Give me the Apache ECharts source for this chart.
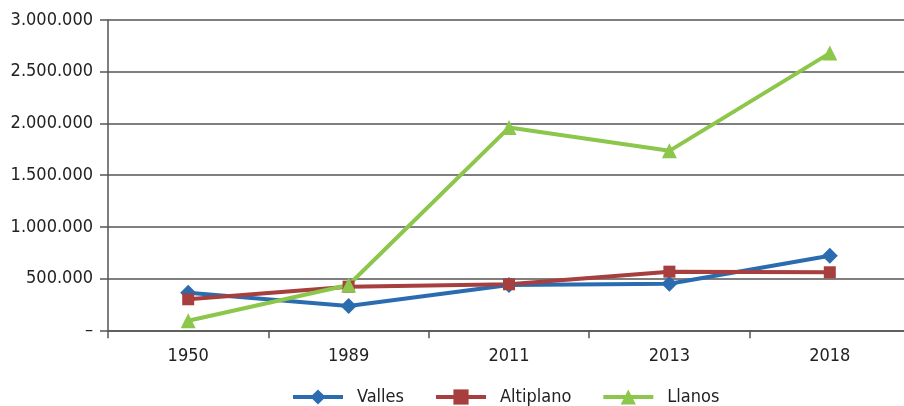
<!DOCTYPE html>
<html>
<head>
<meta charset="utf-8">
<script src="https://cdn.jsdelivr.net/npm/echarts@6/dist/echarts.min.js"></script>
<style>
  html, body { margin: 0; padding: 0; background: #fff; overflow: hidden; }
  #chart { width: 910px; height: 406px; }
</style>
</head>
<body>
<div id="chart"></div>
<script>
// Population by region, selected census years
const years = ['1950', '1989', '2011', '2013', '2018'];
const valles = [363000, 235000, 438000, 450000, 721000];
const altiplano = [300000, 422000, 445000, 567000, 561000];
const llanos = [93000, 438000, 1960000, 1735000, 2680000];
const yTicks = [0, 500000, 1000000, 1500000, 2000000, 2500000, 3000000];

const FONT = '"Liberation Sans Narrow", "DejaVu Sans Condensed", Arial, sans-serif';
const AXIS_COLOR = '#555555';

function fmt(v) {
  if (v === 0) return '\u2013';
  return String(v).replace(/\B(?=(\d{3})+(?!\d))/g, '.');
}

// The plot area runs a few pixels past the visible right edge
const chart = echarts.init(document.getElementById('chart'), null, { renderer: 'canvas' });

function lineSeries(name, data, color, symbol, size) {
  return {
    name: name,
    type: 'line',
    data: data,
    symbol: symbol,
    symbolSize: size,
    showAllSymbol: true,
    lineStyle: { color: color, width: 4 },
    itemStyle: { color: color, borderWidth: 0 },
    emphasis: { disabled: true },
    z: 3
  };
}

chart.setOption({
  animation: false,
  textStyle: { fontFamily: FONT },
  grid: { left: 108, top: 20, right: 0, height: 310.3, containLabel: false },
  legend: {
    top: 383,
    left: 286,
    itemWidth: 50,
    itemHeight: 19,
    itemGap: 30,
    lineStyle: { width: 4 },
    textStyle: { fontFamily: FONT, fontSize: 18, color: '#222', padding: [0, 0, 0, 9] },
    data: ['Valles', 'Altiplano', 'Llanos']
  },
  xAxis: {
    type: 'category',
    data: years,
    boundaryGap: true,
    axisLine: { lineStyle: { color: AXIS_COLOR, width: 1.5 } },
    axisTick: { show: true, length: 8, lineStyle: { color: AXIS_COLOR, width: 1.5 } },
    axisLabel: { fontFamily: FONT, fontSize: 18, color: '#222', margin: 17 }
  },
  yAxis: {
    type: 'value',
    min: yTicks[0],
    max: yTicks[yTicks.length - 1],
    interval: yTicks[1] - yTicks[0],
    axisLine: { show: true, lineStyle: { color: AXIS_COLOR, width: 1.5 } },
    axisTick: { show: true, length: 8, lineStyle: { color: AXIS_COLOR, width: 1.5 } },
    splitLine: { show: true, lineStyle: { color: AXIS_COLOR, width: 1.5 } },
    axisLabel: { fontFamily: FONT, fontSize: 18, color: '#222', margin: 15, formatter: fmt }
  },
  series: [
    lineSeries('Valles', valles, '#2b6cb0', 'diamond', 16),
    lineSeries('Altiplano', altiplano, '#a63f3d', 'rect', 12),
    lineSeries('Llanos', llanos, '#8cc64a', 'triangle', 15)
  ]
});
</script>
</body>
</html>
